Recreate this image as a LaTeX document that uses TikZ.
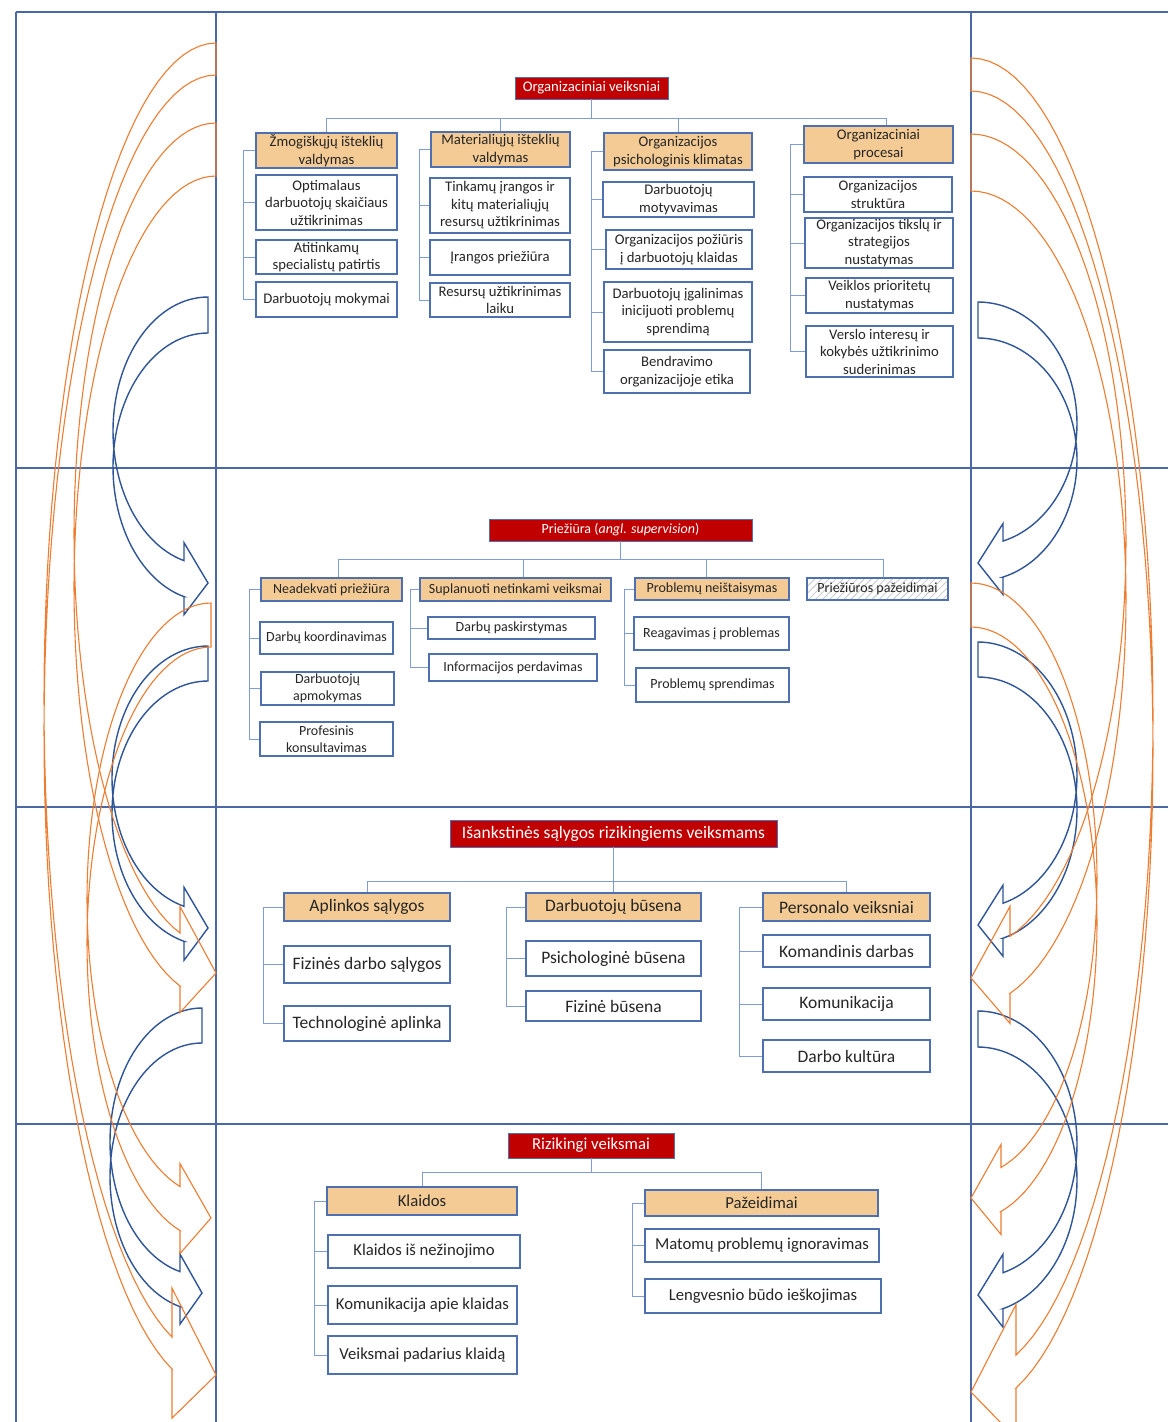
\documentclass[tikz,border=0pt]{standalone}
\usepackage{fontspec}
\setmainfont{Carlito}
\usetikzlibrary{patterns.meta}
\definecolor{txt}{HTML}{262626}
\definecolor{tabblue}{HTML}{4A68A8}
\definecolor{boxblue}{HTML}{4E70B0}
\definecolor{connblue}{HTML}{7F9DD4}
\definecolor{arrblue}{HTML}{2F5597}
\definecolor{arrorange}{HTML}{ED7D31}
\definecolor{tanbox}{HTML}{F4CB94}
\definecolor{redbox}{HTML}{C00000}
% box by its corners (pixel units, y down)
\newcommand{\boxat}[7]{%
  \node[#1, minimum width={#5-#3}, minimum height={#6-#4}] (#2) at ({(#3+#5)/2},{(#4+#6)/2}) {#7};}
% curved block arrow: side, tail x, tail top, thickness, bulge, head length, head width, tip y, style
\newcommand{\curvarrow}[9]{%
  \pgfmathsetmacro{\caH}{#8-#3+#7/2}
  \pgfmathsetmacro{\caR}{\caH/2-(#4+#7)/4}
  \pgfmathsetmacro{\caE}{270-asin(#6/#5)}
  \pgfmathsetmacro{\caU}{#3+\caR}
  \pgfmathsetmacro{\caL}{#3+#4+\caR}
  \pgfmathsetmacro{\caY}{\caR*cos(asin(#6/#5))}
  \pgfmathsetmacro{\caD}{(#7-#4)/2}
  \pgfmathsetmacro{\caX}{#2-(#1)*#6}
  \draw[#9] plot[domain=90:\caE, samples=60, variable=\t] ({#2+(#1)*#5*cos(\t)},{\caU-\caR*sin(\t)})
    -- (\caX,{\caU+\caY-\caD}) -- (#2,#8) -- (\caX,{\caL+\caY+\caD}) -- (\caX,{\caL+\caY})
    -- plot[domain=\caE:90, samples=60, variable=\t] ({#2+(#1)*#5*cos(\t)},{\caL-\caR*sin(\t)}) -- cycle;}

\begin{document}
\begin{tikzpicture}[x=1pt, y=-1pt,
    every node/.style={text=txt, inner sep=1pt, align=center},
    hdr/.style={draw=boxblue, line width=1.2pt, fill=tanbox},
    itm/.style={draw=boxblue, line width=1.2pt, fill=white},
    ttl/.style={draw=boxblue, line width=0.8pt, fill=redbox, text=white},
    hatch/.style={draw=boxblue, line width=1.2pt, pattern={Lines[angle=45,distance=5pt,line width=0.8pt]}, pattern color=gray!45},
    conn/.style={draw=connblue, line width=1pt},
    tab/.style={draw=tabblue, line width=2pt},
    bluearr/.style={draw=arrblue, line width=1.4pt},
    orgarr/.style={draw=arrorange, line width=1.1pt}
]
\useasboundingbox (0,0) rectangle (1168,1422);
\fill[white] (0,0) rectangle (1168,1422);
\clip (0,0) rectangle (1168,1422);

% table grid
\draw[tab] (16,12) -- (1168,12);
\foreach \y in {468,807,1124} \draw[tab] (16,\y) -- (1168,\y);
\foreach \x in {16,216,971} \draw[tab] (\x,12) -- (\x,1422);

% Band 1: organizaciniai veiksniai
\begin{scope}[font=\fontsize{14.7}{17.5}\selectfont]
\boxat{ttl}{t1}{515}{77}{668}{99}{Organizaciniai veiksniai}
\boxat{hdr}{h11}{256}{133}{397}{168}{Žmogiškųjų išteklių\\valdymas}
\boxat{itm}{i111}{256}{175}{397}{230}{Optimalaus\\darbuotojų skaičiaus\\užtikrinimas}
\boxat{itm}{i112}{256}{240}{397}{274}{Atitinkamų\\specialistų patirtis}
\boxat{itm}{i113}{256}{282}{397}{317}{Darbuotojų mokymai}
\boxat{hdr}{h12}{431}{132}{570}{167}{Materialiųjų išteklių\\valdymas}
\boxat{itm}{i121}{430}{178}{570}{233}{Tinkamų įrangos ir\\kitų materialiųjų\\resursų užtikrinimas}
\boxat{itm}{i122}{430}{240}{570}{275}{Įrangos priežiūra}
\boxat{itm}{i123}{430}{283}{570}{317}{Resursų užtikrinimas\\laiku}
\boxat{hdr}{h13}{604}{133}{752}{170}{Organizacijos\\psichologinis klimatas}
\boxat{itm}{i131}{603}{182}{754}{217}{Darbuotojų\\motyvavimas}
\boxat{itm}{i132}{606}{230}{752}{269}{Organizacijos požiūris\\į darbuotojų klaidas}
\boxat{itm}{i133}{604}{282}{752}{342}{Darbuotojų įgalinimas\\inicijuoti problemų\\sprendimą}
\boxat{itm}{i134}{604}{350}{750}{393}{Bendravimo\\organizacijoje etika}
\boxat{hdr}{h14}{804}{126}{953}{163}{Organizaciniai\\procesai}
\boxat{itm}{i141}{804}{177}{952}{212}{Organizacijos\\struktūra}
\boxat{itm}{i142}{805}{218}{953}{268}{Organizacijos tikslų ir\\strategijos\\nustatymas}
\boxat{itm}{i143}{806}{278}{953}{313}{Veiklos prioritetų\\nustatymas}
\boxat{itm}{i144}{806}{326}{953}{377}{Verslo interesų ir\\kokybės užtikrinimo\\suderinimas}
\end{scope}
\foreach \h in {h11,h12,h13} \draw[conn] (t1.south) -- ++(0,19) -| (\h.north);
\draw[conn] (t1.south) -- ++(0,19) -| ([xshift=8pt]h14.north);
\foreach \i in {i111,i112,i113} \draw[conn] (h11.west) -- ++(-12,0) |- (\i.west);
\foreach \i in {i121,i122,i123} \draw[conn] (h12.west) -- ++(-11,0) |- (\i.west);
\foreach \i in {i131,i132,i133,i134} \draw[conn] (h13.west) -- ++(-12,0) |- (\i.west);
\foreach \i in {i141,i142,i143,i144} \draw[conn] (h14.west) -- ++(-13,0) |- (\i.west);

% Band 2: priežiūra
\begin{scope}[font=\fontsize{14}{16.5}\selectfont]
\boxat{ttl}{t2}{489}{519}{752}{541}{Priežiūra (\textit{angl. supervision})}
\boxat{hdr}{h21}{261}{578}{402}{601}{Neadekvati priežiūra}
\boxat{itm}{i211}{260}{622}{393}{654}{Darbų koordinavimas}
\boxat{itm}{i212}{261}{672}{394}{705}{Darbuotojų\\apmokymas}
\boxat{itm}{i213}{260}{722}{393}{756}{Profesinis\\konsultavimas}
\boxat{hdr}{h22}{420}{578}{611}{601}{Suplanuoti netinkami veiksmai}
\boxat{itm}{i221}{428}{617}{595}{639}{Darbų paskirstymas}
\boxat{itm}{i222}{429}{654}{597}{681}{Informacijos perdavimas}
\boxat{hdr}{h23}{635}{578}{789}{600}{Problemų neištaisymas}
\boxat{itm}{i231}{634}{617}{789}{650}{Reagavimas į problemas}
\boxat{itm}{i232}{636}{668}{789}{702}{Problemų sprendimas}
\boxat{hatch}{h24}{807}{578}{948}{600}{Priežiūros pažeidimai}
\end{scope}
\draw[conn] (t2.south) -- ++(0,18) -| ([xshift=6.5pt]h21.north);
\draw[conn] (t2.south) -- ++(0,18) -| ([xshift=7.5pt]h22.north);
\draw[conn] (t2.south) -- ++(0,18) -| ([xshift=-6pt]h23.north);
\draw[conn] (t2.south) -- ++(0,18) -| ([xshift=5.5pt]h24.north);
\foreach \i in {i211,i212,i213} \draw[conn] (h21.west) -- ++(-11,0) |- (\i.west);
\foreach \i in {i221,i222} \draw[conn] (h22.west) -- ++(-9,0) |- (\i.west);
\foreach \i in {i231,i232} \draw[conn] (h23.west) -- ++(-10,0) |- (\i.west);

% Band 3: išankstinės sąlygos
\begin{scope}[font=\fontsize{17.5}{20}\selectfont]
\boxat{ttl}{t3}{450}{820}{777}{847}{Išankstinės sąlygos rizikingiems veiksmams}
\boxat{hdr}{h31}{284}{893}{450}{921}{Aplinkos sąlygos}
\boxat{itm}{i311}{284}{946}{450}{983}{Fizinės darbo sąlygos}
\boxat{itm}{i312}{284}{1006}{450}{1041}{Technologinė aplinka}
\boxat{hdr}{h32}{526}{893}{701}{921}{Darbuotojų būsena}
\boxat{itm}{i321}{526}{941}{701}{976}{Psichologinė būsena}
\boxat{itm}{i322}{526}{991}{701}{1021}{Fizinė būsena}
\boxat{hdr}{h33}{763}{893}{930}{921}{Personalo veiksniai}
\boxat{itm}{i331}{763}{935}{930}{967}{Komandinis darbas}
\boxat{itm}{i332}{763}{988}{930}{1020}{Komunikacija}
\boxat{itm}{i333}{763}{1040}{930}{1072}{Darbo kultūra}
\end{scope}
\foreach \h in {h31,h32,h33} \draw[conn] (t3.south) -- ++(0,34) -| (\h.north);
\foreach \i in {i311,i312} \draw[conn] (h31.west) -- ++(-20,0) |- (\i.west);
\foreach \i in {i321,i322} \draw[conn] (h32.west) -- ++(-19,0) |- (\i.west);
\foreach \i in {i331,i332,i333} \draw[conn] (h33.west) -- ++(-23,0) |- (\i.west);

% Band 4: rizikingi veiksmai
\begin{scope}[font=\fontsize{16.7}{19.5}\selectfont]
\boxat{ttl}{t4}{508}{1133}{674}{1158}{Rizikingi veiksmai}
\boxat{hdr}{h41}{327}{1187}{517}{1215}{Klaidos}
\boxat{itm}{i411}{328}{1235}{520}{1268}{Klaidos iš nežinojimo}
\boxat{itm}{i412}{328}{1286}{517}{1324}{Komunikacija apie klaidas}
\boxat{itm}{i413}{328}{1336}{517}{1374}{Veiksmai padarius klaidą}
\boxat{hdr}{h42}{645}{1190}{878}{1216}{Pažeidimai}
\boxat{itm}{i421}{645}{1229}{879}{1262}{Matomų problemų ignoravimas}
\boxat{itm}{i422}{645}{1279}{881}{1313}{Lengvesnio būdo ieškojimas}
\end{scope}
\foreach \h in {h41,h42} \draw[conn] (t4.south) -- ++(0,14) -| (\h.north);
\foreach \i in {i411,i412,i413} \draw[conn] (h41.west) -- ++(-12,0) |- (\i.west);
\foreach \i in {i421,i422} \draw[conn] (h42.west) -- ++(-12,0) |- (\i.west);

% side arrows, left
\curvarrow{1}{208}{297}{36}{95}{24}{72}{583}{bluearr}
\curvarrow{1}{208}{646}{35}{96}{24}{73}{928}{bluearr}
\curvarrow{1}{202}{1008}{35}{92}{22}{70}{1293}{bluearr}
\curvarrow{1}{216}{43}{32}{172}{44}{130}{1375}{orgarr}
\curvarrow{1}{216}{123}{53}{142}{36}{106}{973}{orgarr}
\curvarrow{1}{211}{603}{44}{124}{31}{90}{1218}{orgarr}
% side arrows, right
\curvarrow{-1}{978}{302}{36}{99}{25}{71}{563}{bluearr}
\curvarrow{-1}{978}{642}{35}{99}{25}{71}{925}{bluearr}
\curvarrow{-1}{978}{1011}{36}{99}{25}{73}{1295}{bluearr}
\curvarrow{-1}{971}{58}{33}{182}{45}{134}{1392}{orgarr}
\curvarrow{-1}{971}{134}{57}{155}{39}{117}{978}{orgarr}
\curvarrow{-1}{971}{583}{44}{126}{30}{90}{1198}{orgarr}
\end{tikzpicture}
\end{document}
